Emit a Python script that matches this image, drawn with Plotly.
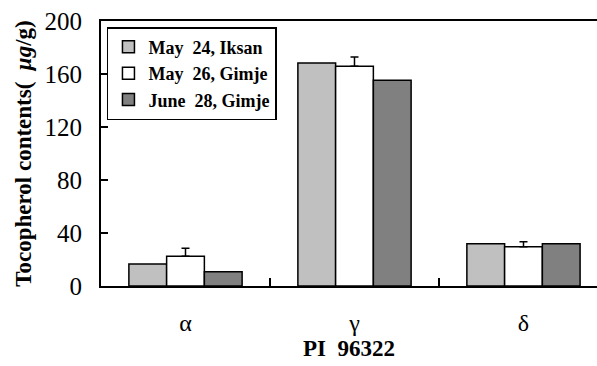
import plotly.graph_objects as go

categories = ["α", "γ", "δ"]
series_names = ["May  24, Iksan", "May  26, Gimje", "June  28, Gimje"]
may24_iksan = [16.6, 168.3, 31.9]
may26_gimje = [22.4, 165.8, 29.7]
may26_err = [6.0, 7.0, 3.7]
june28_gimje = [10.8, 155.2, 31.9]
colors = ["#C0C0C0", "#FFFFFF", "#808080"]

SERIF = "Liberation Serif"

fig = go.Figure()
for name, vals, col, err in [
    (series_names[0], may24_iksan, colors[0], None),
    (series_names[1], may26_gimje, colors[1], may26_err),
    (series_names[2], june28_gimje, colors[2], None),
]:
    kw = {}
    if err is not None:
        kw["error_y"] = dict(type="data", array=err, arrayminus=[0] * len(err),
                             symmetric=False, color="black", thickness=1.5, width=4)
    fig.add_trace(go.Bar(x=categories, y=vals, name=name,
                         marker=dict(color=col, line=dict(color="black", width=1.5)),
                         **kw))

fig.update_layout(
    width=597, height=366,
    margin=dict(l=101, r=0, t=21, b=80),
    paper_bgcolor="white", plot_bgcolor="white",
    barmode="group", bargap=0.33, bargroupgap=0,
    showlegend=True,
    legend=dict(x=0.012, y=0.977, xanchor="left", yanchor="top",
                bordercolor="black", borderwidth=1.5, bgcolor="white",
                font=dict(family=SERIF, size=18, color="black", weight="bold"),
                tracegroupgap=0, itemwidth=30),
    font=dict(family=SERIF, color="black"),
)
fig.update_xaxes(
    type="category", range=[-0.5, 2.435],
    showline=True, linecolor="black", linewidth=2, mirror=True,
    ticks="inside", tickson="boundaries", ticklen=8, tickcolor="black", tickwidth=1.5,
    tickfont=dict(family=SERIF, size=24, color="black"),
    ticklabelstandoff=14,
    showgrid=False, zeroline=False,
    title=dict(text="PI  96322", font=dict(family=SERIF, size=23, color="black", weight="bold"),
               standoff=0),
)
fig.update_yaxes(
    range=[0, 200], dtick=40, tick0=0,
    showline=True, linecolor="black", linewidth=2,
    ticks="inside", ticklen=7, tickcolor="black", tickwidth=1.5,
    tickfont=dict(family=SERIF, size=25, color="black"),
    ticklabelstandoff=12,
    showgrid=False, zeroline=False,
    title=dict(text="Tocopherol contents(  <i>μg</i>/g)",
               font=dict(family=SERIF, size=23, color="black", weight="bold"),
               standoff=6),
)

fig.write_html("out.html")
